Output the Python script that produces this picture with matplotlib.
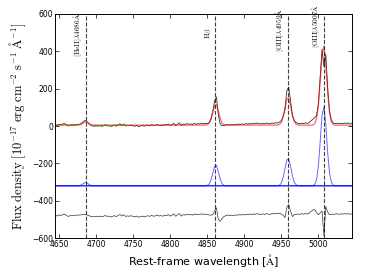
import numpy as np
import matplotlib
matplotlib.use('Agg')
import matplotlib.pyplot as plt

plt.rcParams['mathtext.fontset'] = 'cm'

# wavelength grid (rest frame, Angstrom), 2.5 A steps
wave = np.arange(4645.0, 5045.1, 2.5)

flux = [8, 3, 9, 6, 10, 13, 7, 1, 5, 8,
        4, 7, 9, 9, 14, 22, 30, 25, 15, 5,
        1, -1, 2, 0, 3, -1, 2, 6, 1, 3,
        -2, 2, 5, 0, 7, 11, 3, 10, 1, 4,
        2, 5, 1, -1, 3, -3, 0, 3, -1, 2,
        5, 1, 7, 2, 4, 9, 3, 6, 2, 8,
        5, 11, 3, 7, 15, 2, 9, 17, 3, 11,
        8, 13, 9, 12, 8, 14, 10, 13, 11, 15,
        12, 14, 13, 18, 38, 78, 134, 156, 61, 11,
        2, 3, 5, 9, 5, 8, 6, 9, 7, 11,
        8, 12, 9, 13, 10, 14, 11, 15, 12, 16,
        13, 11, 15, 12, 16, 14, 11, 17, 14, 18,
        16, 22, 28, 52, 89, 190, 208, 134, 53, 30,
        18, 15, 12, 16, 13, 17, 14, 18, 28, 36,
        45, 55, 116, 259, 410, 320, 384, 205, 79, 32,
        17, 13, 16, 12, 15, 13, 16, 14, 16, 13,
        15]

# fitted line components (only non-zero parts), first wavelength + values
heii_start, heii_vals = 4677.5, [1, 4, 11, 17, 16, 9, 3, 1]
hb_start, hb_vals = 4845.0, [0, 0, 2, 9, 30, 68, 104, 109, 76, 36, 12, 3, 0, 0]
o4959_start, o4959_vals = 4945.0, [1, 3, 15, 45, 94, 139, 144, 105, 53, 19, 5, 1]
o5007_start, o5007_vals = 4990.0, [0, 1, 7, 33, 106, 239, 380, 422, 329, 180, 69, 19, 4, 0]
continuum_level = 5

# emission lines marked with dashed lines
line_wave = [4686, 4861, 4959, 5007]
line_names = [r'$\mathrm{[HeII]}\lambda\mathrm{4686\AA}$', r'$\mathrm{H}\beta$',
              r'$\mathrm{[OIII]}\lambda\mathrm{4959\AA}$', r'$\mathrm{[OIII]}\lambda\mathrm{5007\AA}$']

# continuum windows shown in green
green_windows = [(4655, 4672.5), (4697.5, 4747.5), (5040, 5045)]

comp_offset = -320
resid_offset = -480

flux = np.array(flux, dtype=float)
comps = []
for start, vals in [(heii_start, heii_vals), (hb_start, hb_vals),
                    (o4959_start, o4959_vals), (o5007_start, o5007_vals)]:
    c = np.zeros_like(wave)
    i0 = int(round((start - wave[0]) / 2.5))
    c[i0:i0 + len(vals)] = vals
    comps.append(c)
model = continuum_level + np.sum(comps, axis=0)
resid = flux - model + resid_offset

fig = plt.figure(figsize=(3.66, 2.74), dpi=100)
ax = fig.add_axes([0.151, 0.131, 0.81, 0.818])

ax.plot(wave, flux, color='k', lw=0.6, alpha=0.8)
for lo, hi in green_windows:
    m = (wave >= lo) & (wave <= hi)
    ax.plot(wave[m], flux[m], color='#22bb22', lw=0.7)
ax.plot(wave, model, color='r', lw=1.0, alpha=0.55)
for c in comps:
    ax.plot(wave, c + comp_offset, color='b', lw=0.7, alpha=0.6)
ax.plot(wave, resid, color='k', lw=0.5, alpha=0.8)

label_y = [490, 500, 514, 533]
for lw_, name, ly in zip(line_wave, line_names, label_y):
    ax.axvline(lw_, color='k', ls='--', lw=0.8, alpha=0.75)
    ax.text(lw_ - 2.5, ly, name, rotation=90, ha='right', va='center', fontsize=5.3)

ax.set_xlim(4645, 5045)
ax.set_ylim(-600, 600)
ax.set_xticks([4650, 4700, 4750, 4800, 4850, 4900, 4950, 5000])
ax.set_yticks([-600, -400, -200, 0, 200, 400, 600])
ax.tick_params(direction='in', top=True, right=True, labelsize=5.5, length=3, width=0.5, pad=1.5)
for s in ax.spines.values():
    s.set_linewidth(0.7)

ax.set_xlabel(r'Rest-frame wavelength [$\mathrm{\AA}$]', fontsize=8, labelpad=2)
ax.set_ylabel(r'$\mathrm{Flux\ density\ [10^{-17}\ erg\ cm^{-2}\ s^{-1}\ \AA^{-1}]}$',
              fontsize=9, labelpad=3)

fig.savefig('out.png', dpi=100)
